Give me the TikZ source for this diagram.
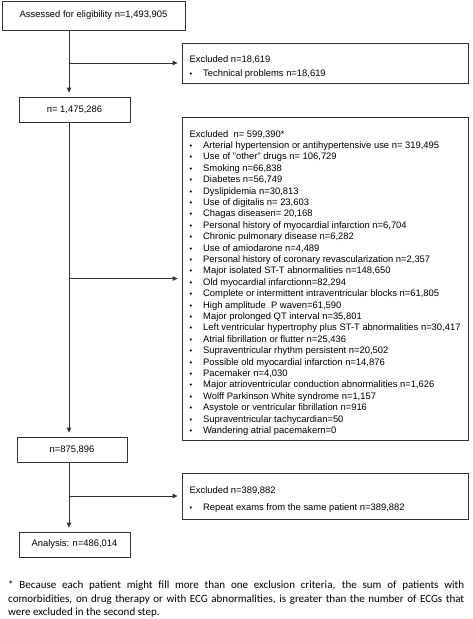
\documentclass[tikz,border=0pt]{standalone}
\usepackage{fontspec}
\setmainfont{Liberation Sans}
\newfontfamily\notefont{Carlito}
\usetikzlibrary{arrows.meta}
\newcommand{\bitem}[1]{\makebox[13.5pt][l]{\scalebox{0.8}{•}}#1}
\begin{document}
\begin{tikzpicture}[x=1pt,y=-1pt,
  box/.style={draw=black!80, line width=0.8pt, inner sep=0pt},
  conn/.style={draw=black!80, line width=0.8pt, shorten >=4pt, -{Triangle[length=5pt,width=4.5pt]}},
  lbl/.style={font=\fontsize{9.4}{11}\selectfont, inner sep=0pt},
  lst/.style={font=\fontsize{9.4}{11.4}\selectfont, align=left, inner sep=0pt, anchor=north west}]
\useasboundingbox (0,0) rectangle (472,619);
\fill[white] (0,0) rectangle (472,619);
\coordinate (sp) at (69,0);
% main boxes
\node[box, minimum width=183pt, minimum height=29pt] (assess) at (93.5,15.5) {};
\node[lbl] (assesst) at (assess.center) {Assessed for eligibility n=1,493,905};
\node[box, minimum width=111pt, minimum height=25pt] (n2) at (74.5,109.5) {};
\node[lbl] (n2t) at (n2.center) {n= 1,475,286};
\node[box, minimum width=110pt, minimum height=25pt] (n3) at (72,449.5) {};
\node[lbl] (n3t) at (n3.center) {n=875,896};
\node[box, minimum width=111pt, minimum height=25pt] (an) at (74.5,544.5) {};
\node[lbl] (ant) at (an.center) {Analysis: n=486,014};
% exclusion boxes
\node[box, minimum width=286pt, minimum height=40pt] (ex1) at (325,63) {};
\node[lst] (ex1t) at (189.5,55) {Excluded n=18,619\\[2.6pt]
\bitem{Technical problems n=18,619}};
\node[box, minimum width=286pt, minimum height=323pt] (ex2) at (325,278.5) {};
\node[lst] (ex2t) at (189.5,130) {Excluded~~n= 599,390*\\
\bitem{Arterial hypertension or antihypertensive use n= 319,495}\\
\bitem{Use of "other" drugs n= 106,729}\\
\bitem{Smoking n=66,838}\\
\bitem{Diabetes n=56,749}\\
\bitem{Dyslipidemia n=30,813}\\
\bitem{Use of digitalis n= 23,603}\\
\bitem{Chagas diseasen= 20,168}\\
\bitem{Personal history of myocardial infarction n=6,704}\\
\bitem{Chronic pulmonary disease n=6,282}\\
\bitem{Use of amiodarone n=4,489}\\
\bitem{Personal history of coronary revascularization n=2,357}\\
\bitem{Major isolated ST-T abnormalities n=148,650}\\
\bitem{Old myocardial infarctionn=82,294}\\
\bitem{Complete or intermittent intraventricular blocks n=61,805}\\
\bitem{High amplitude~ P waven=61,590}\\
\bitem{Major prolonged QT interval n=35,801}\\
\bitem{Left ventricular hypertrophy plus ST-T abnormalities n=30,417}\\
\bitem{Atrial fibrillation or flutter n=25,436}\\
\bitem{Supraventricular rhythm persistent n=20,502}\\
\bitem{Possible old myocardial infarction n=14,876}\\
\bitem{Pacemaker n=4,030}\\
\bitem{Major atrioventricular conduction abnormalities n=1,626}\\
\bitem{Wolff Parkinson White syndrome n=1,157}\\
\bitem{Asystole or ventricular fibrillation n=916}\\
\bitem{Supraventricular tachycardian=50}\\
\bitem{Wandering atrial pacemakern=0}};
\node[box, minimum width=286pt, minimum height=46pt] (ex3) at (325,496) {};
\node[lst] (ex3t) at (189.5,486.5) {Excluded n=389,882\\[5.4pt]
\bitem{Repeat exams from the same patient n=389,882}};
% connectors
\draw[conn] (assess.south -| sp) -- (n2.north -| sp);
\draw[conn] (ex1.west -| sp) -- (ex1.west);
\draw[conn] (n2.south -| sp) -- (n3.north -| sp);
\draw[conn] (ex2.west -| sp) -- (ex2.west);
\draw[conn] (n3.south -| sp) -- (an.north -| sp);
\draw[conn] (ex3.west -| sp) -- (ex3.west);
% footnote
\node[anchor=north west, inner sep=0pt, text width=456pt, align=justify,
  font=\notefont\fontsize{11}{13.6}\selectfont] (note) at (8,580.5)
{* Because each patient might fill more than one exclusion criteria, the sum of patients with\linebreak comorbidities, on drug therapy or with ECG abnormalities, is greater than the number of ECGs that\linebreak were excluded in the second step.};
\end{tikzpicture}
\end{document}
